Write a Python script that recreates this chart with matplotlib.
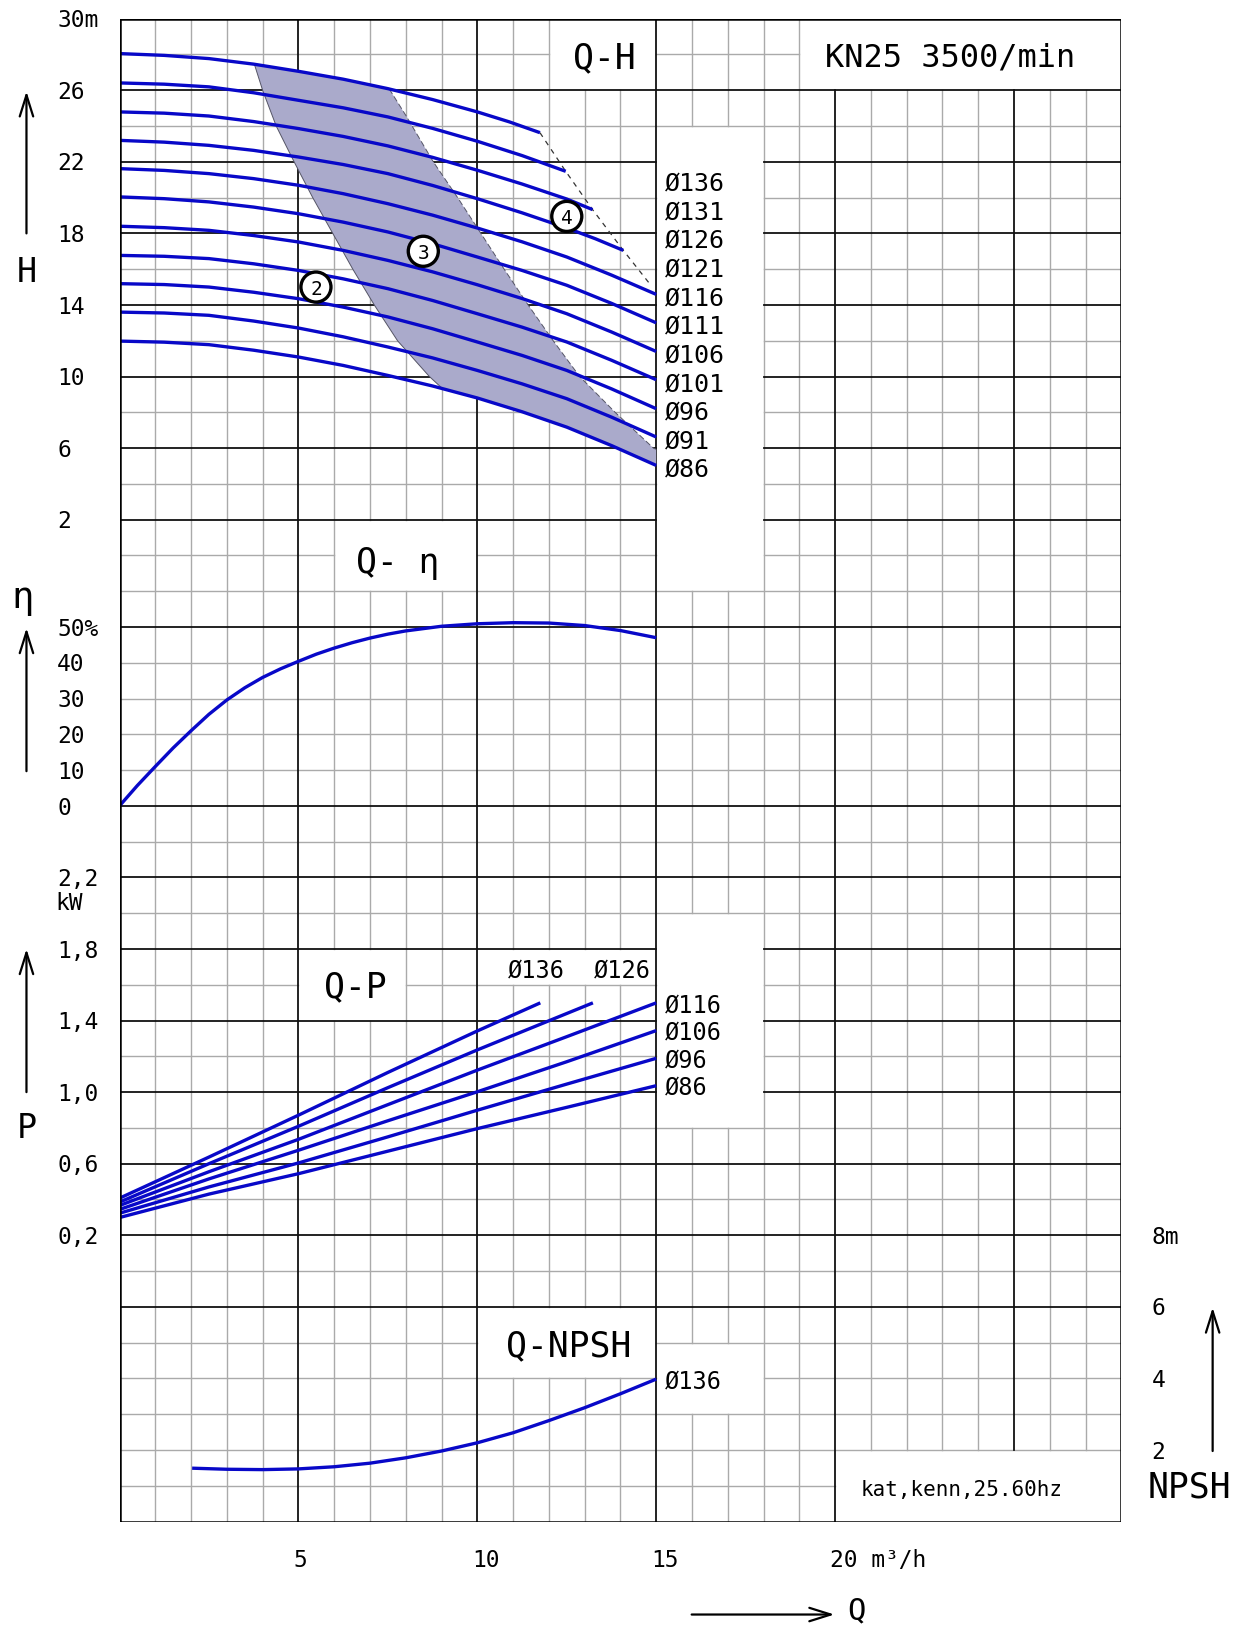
import numpy as np
import matplotlib
matplotlib.use('Agg')
import matplotlib.pyplot as plt
from matplotlib.patches import Circle, Polygon

# Q-H curves, Q in m3/h, H in m
h_labels = ['Ø136', 'Ø131', 'Ø126', 'Ø121', 'Ø116', 'Ø111', 'Ø106', 'Ø101', 'Ø96', 'Ø91', 'Ø86']
q_std = [0, 1.25, 2.5, 3.75, 5, 6.25, 7.5, 8.75, 10, 11.25, 12.5, 13.75, 15]
h_q = [
    [0, 1.25, 2.5, 3.75, 5, 6.25, 7.5, 8.75, 10, 10.9, 11.75],
    [0, 1.25, 2.5, 3.75, 5, 6.25, 7.5, 8.75, 10, 11.25, 12.47],
    [0, 1.25, 2.5, 3.75, 5, 6.25, 7.5, 8.75, 10, 11.25, 12.5, 13.22],
    [0, 1.25, 2.5, 3.75, 5, 6.25, 7.5, 8.75, 10, 11.25, 12.5, 13.3, 14.08],
    q_std, q_std, q_std, q_std, q_std, q_std, q_std,
]
h_h = [
    [28.05, 27.95, 27.77, 27.46, 27.06, 26.62, 26.09, 25.48, 24.79, 24.23, 23.63],
    [26.41, 26.34, 26.19, 25.86, 25.44, 25.02, 24.51, 23.87, 23.15, 22.35, 21.47],
    [24.79, 24.72, 24.56, 24.25, 23.86, 23.42, 22.89, 22.25, 21.53, 20.76, 19.92, 19.33],
    [23.20, 23.10, 22.92, 22.64, 22.27, 21.85, 21.34, 20.68, 19.94, 19.15, 18.30, 17.70, 17.05],
    [21.62, 21.52, 21.34, 21.06, 20.69, 20.22, 19.66, 19.02, 18.30, 17.53, 16.68, 15.67, 14.59],
    [20.04, 19.94, 19.76, 19.47, 19.10, 18.63, 18.08, 17.42, 16.68, 15.93, 15.10, 14.09, 13.00],
    [18.40, 18.32, 18.17, 17.88, 17.52, 17.05, 16.49, 15.85, 15.13, 14.36, 13.51, 12.49, 11.40],
    [16.77, 16.72, 16.59, 16.30, 15.93, 15.46, 14.91, 14.25, 13.51, 12.76, 11.93, 10.91, 9.82],
    [15.19, 15.14, 15.00, 14.71, 14.35, 13.88, 13.33, 12.67, 11.93, 11.18, 10.34, 9.31, 8.20],
    [13.60, 13.55, 13.42, 13.10, 12.71, 12.22, 11.65, 11.04, 10.34, 9.59, 8.76, 7.73, 6.62],
    [11.98, 11.92, 11.78, 11.47, 11.09, 10.62, 10.06, 9.47, 8.80, 8.03, 7.17, 6.14, 5.03],
]

# shaded operating band: top along Ø136, right edge, bottom along Ø86, left edge
band_q = [3.77, 5, 6.25, 7.5, 7.54, 8.0, 8.77, 9.45, 10.1, 10.75, 11.42, 12.12, 12.86, 13.85, 14.92, 15,
          15, 13.75, 12.5, 11.25, 10, 9.03, 8.66, 7.77, 7.12, 6.52, 5.96, 5.4, 4.88, 4.38, 4.0]
band_h = [27.45, 27.06, 26.62, 26.09, 26.07, 24.6, 22.0, 20.0, 18.0, 16.0, 14.0, 12.0, 10.0, 8.0, 6.0, 5.93,
          5.03, 6.14, 7.17, 8.03, 8.80, 9.32, 10.0, 12.0, 14.0, 16.0, 18.0, 20.0, 22.0, 24.0, 26.0]
right_edge = (4, 16)
left_edge = 21

env_q = [11.75, 12.47, 13.22, 14.08, 14.85]
env_h = [23.63, 21.47, 19.33, 17.05, 15.1]

mark_text = ['2', '3', '4']
mark_q = [5.49, 8.49, 12.5]
mark_h = [15.0, 17.0, 18.95]

# efficiency
eta_q = [0, 0.5, 1, 1.5, 2, 2.5, 3, 3.5, 4, 4.5, 5, 5.5, 6, 6.5, 7, 7.5, 8, 9, 10, 11, 12, 13, 14, 15]
eta_v = [0, 5.7, 11.0, 16.2, 21.0, 25.6, 29.6, 33.0, 35.9, 38.3, 40.4, 42.4, 44.1, 45.6, 46.9, 48.0,
         48.9, 50.2, 50.9, 51.2, 51.1, 50.4, 49.0, 47.0]

# power
p_labels = ['Ø136', 'Ø126', 'Ø116', 'Ø106', 'Ø96', 'Ø86']
p_q = [
    [0, 2.5, 5, 7.5, 10, 11.76],
    [0, 2.5, 5, 7.5, 10, 13.23],
    [0, 2.5, 5, 7.5, 10, 12.5, 15],
    [0, 2.5, 5, 7.5, 10, 12.5, 15],
    [0, 2.5, 5, 7.5, 10, 12.5, 15],
    [0, 2.5, 5, 7.5, 10, 12.5, 15],
]
p_v = [
    [0.407, 0.637, 0.871, 1.110, 1.342, 1.499],
    [0.385, 0.600, 0.809, 1.025, 1.236, 1.499],
    [0.366, 0.555, 0.736, 0.930, 1.123, 1.310, 1.499],
    [0.344, 0.515, 0.675, 0.840, 1.002, 1.170, 1.344],
    [0.323, 0.470, 0.604, 0.750, 0.899, 1.045, 1.189],
    [0.299, 0.430, 0.544, 0.670, 0.796, 0.915, 1.036],
]

# NPSH
npsh_q = [2.03, 3, 4, 5, 6, 7, 8, 9, 10, 11, 12, 13, 14, 15]
npsh_v = [1.49, 1.46, 1.45, 1.47, 1.53, 1.63, 1.78, 1.97, 2.20, 2.48, 2.82, 3.18, 3.57, 3.98]

# tick labels
h_ticks = [30, 26, 22, 18, 14, 10, 6, 2]
h_tick_text = ['30m', '26', '22', '18', '14', '10', '6', '2']
eta_ticks = [50, 40, 30, 20, 10, 0]
eta_tick_text = ['50%', '40', '30', '20', '10', '0']
p_ticks = [2.2, 1.8, 1.4, 1.0, 0.6, 0.2]
p_tick_text = ['2,2', '1,8', '1,4', '1,0', '0,6', '0,2']
n_ticks = [8, 6, 4, 2]
n_tick_text = ['8m', '6', '4', '2']
q_ticks = [5, 10, 15, 20]
q_tick_text = ['5', '10', '15', '20 m³/h']


# every panel shares one square grid: x in Q, y in grid cells (0 at bottom, 42 at top)
def yH(h):
    return 28 + (np.asarray(h) - 2) / 2.0

def yE(e):
    return 20 + np.asarray(e) / 10.0

def yP(p):
    return 7 + 5 * np.asarray(p)

def yN(n):
    return np.asarray(n, dtype=float)


plt.rcParams['font.family'] = ['DejaVu Sans Mono', 'DejaVu Sans']
blue = '#0808c8'
gray = '#aaaaaa'
dy = -0.06

fig = plt.figure(figsize=(12.43, 16.30), dpi=100)
ax = fig.add_axes([119.5 / 1243, (1630 - 1521.5) / 1630, 1001.9 / 1243, 1502.8 / 1630])
ax.set_xlim(0, 28)
ax.set_ylim(0, 42)
ax.axis('off')

# white label areas where the grid is left out
boxes = [(12, 15, 40, 42), (19, 28, 40, 42), (15, 18, 26, 39), (6, 10, 26, 28),
         (5, 8, 14, 16), (10, 15, 15, 16), (15, 18, 11, 17), (10, 15, 4, 6),
         (15, 18, 3, 5), (20, 28, 0, 2)]


def pieces(pos, lo, hi, vertical):
    segs = [(lo, hi)]
    for x0, x1, y0, y1 in boxes:
        if vertical and x0 < pos < x1:
            a, b = y0, y1
        elif not vertical and y0 < pos < y1:
            a, b = x0, x1
        else:
            continue
        new = []
        for s, e in segs:
            if b <= s or a >= e:
                new.append((s, e))
                continue
            if a > s:
                new.append((s, a))
            if b < e:
                new.append((b, e))
        segs = new
    return segs


black_rows = [40, 38, 36, 34, 32, 30, 28, 25, 20, 18, 16, 14, 12, 10, 8, 6]
for q in range(1, 28):
    major = q % 5 == 0
    for s, e in pieces(q, 0, 42, True):
        ax.plot([q, q], [s, e], color='#111111' if major else gray,
                lw=1.3 if major else 1.0, zorder=3 if major else 2)
for y in range(1, 42):
    major = y in black_rows
    for s, e in pieces(y, 0, 28, False):
        ax.plot([s, e], [y, y], color='#111111' if major else gray,
                lw=1.3 if major else 1.0, zorder=3 if major else 2)
ax.plot([0, 28, 28, 0, 0], [0, 0, 42, 42, 0], color='black', lw=1.8, zorder=6)

# Q-H
ax.add_patch(Polygon(np.column_stack([band_q, yH(band_h)]), closed=True,
                     facecolor='#aaaacb', edgecolor='none', zorder=4))
ax.plot(band_q[left_edge:] + [band_q[0]], list(yH(band_h[left_edge:])) + [yH(band_h[0])],
        color='#555566', lw=0.7, zorder=4)
ax.plot(band_q[right_edge[0]:right_edge[1]], yH(band_h[right_edge[0]:right_edge[1]]),
        color='#555566', lw=0.7, ls=(0, (6, 3)), zorder=4)
ax.plot(env_q, yH(env_h), color='#333333', lw=0.9, ls=(0, (4, 4)), zorder=4)
for q, h in zip(h_q, h_h):
    ax.plot(q, yH(h), color=blue, lw=2.4, solid_capstyle='butt', zorder=5)
for i, lab in enumerate(h_labels):
    ax.text(15.25, 37.45 - 0.8 * i + dy, lab, fontsize=18, va='center', ha='left', zorder=7)
for t, q, h in zip(mark_text, mark_q, mark_h):
    ax.add_patch(Circle((q, yH(h)), 0.42, facecolor='white', edgecolor='black', lw=2.4, zorder=8))
    ax.text(q, yH(h) + dy, t, fontsize=14, ha='center', va='center', zorder=9)

# Q-eta
ax.plot(eta_q, yE(eta_v), color=blue, lw=2.4, solid_capstyle='butt', zorder=5)

# Q-P
for q, p in zip(p_q, p_v):
    ax.plot(q, yP(p), color=blue, lw=2.4, solid_capstyle='butt', zorder=5)
ax.text(10.86, 15.47 + dy, p_labels[0], fontsize=17, va='center', ha='left')
ax.text(13.25, 15.47 + dy, p_labels[1], fontsize=17, va='center', ha='left')
for lab, p in zip(p_labels[2:], p_v[2:]):
    ax.text(15.25, yP(p[-1]) + dy, lab, fontsize=17, va='center', ha='left')

# Q-NPSH
ax.plot(npsh_q, yN(npsh_v), color=blue, lw=2.4, solid_capstyle='butt', zorder=5)
ax.text(15.25, 3.98 + dy, 'Ø136', fontsize=17, va='center', ha='left')

# panel titles
ax.text(13.56, 40.95 + dy, 'Q-H', fontsize=25, ha='center', va='center')
ax.text(23.2, 40.95 + dy, 'KN25 3500/min', fontsize=23, ha='center', va='center')
ax.text(7.79, 26.85 + dy, 'Q- η', fontsize=25, ha='center', va='center')
ax.text(6.58, 14.99 + dy, 'Q-P', fontsize=25, ha='center', va='center')
ax.text(12.56, 4.96 + dy, 'Q-NPSH', fontsize=25, ha='center', va='center')
ax.text(23.54, 0.93 + dy, 'kat,kenn,25.60hz', fontsize=15, ha='center', va='center')

# tick labels
for v, t in zip(h_ticks, h_tick_text):
    ax.text(-1.74, yH(v) + dy, t, fontsize=16.5, ha='left', va='center')
for v, t in zip(eta_ticks, eta_tick_text):
    ax.text(-1.74, yE(v) + dy, t, fontsize=16.5, ha='left', va='center')
for v, t in zip(p_ticks, p_tick_text):
    ax.text(-1.74, yP(v) + dy, t, fontsize=16.5, ha='left', va='center')
ax.text(-1.78, 17.33 + dy, 'kW', fontsize=16.5, ha='left', va='center')
for v, t in zip(n_ticks, n_tick_text):
    ax.text(28.84, yN(v) + dy, t, fontsize=16.5, ha='left', va='center')
for v, t in zip(q_ticks, q_tick_text):
    ax.text(v - 0.15, -1.04 + dy, t, fontsize=16.5, ha='left', va='center')

# axis names with arrows
arrow = dict(arrowstyle='->, head_length=0.7, head_width=0.22', color='black', lw=1.6,
             mutation_scale=22, shrinkA=0, shrinkB=0)
for x0, y0, x1, y1 in [(-2.6, 36.0, -2.6, 39.97), (-2.6, 20.97, -2.6, 24.97),
                       (-2.6, 12.0, -2.6, 16.0), (30.55, 1.97, 30.55, 5.98),
                       (15.99, -2.6, 19.98, -2.6)]:
    ax.annotate('', xy=(x1, y1), xytext=(x0, y0), arrowprops=arrow, annotation_clip=False)
ax.text(-2.58, 34.98 + dy, 'H', fontsize=24, ha='center', va='center')
ax.text(-2.71, 25.8, 'η', fontsize=27, ha='center', va='center')
ax.text(-2.6, 11.05 + dy, 'P', fontsize=24, ha='center', va='center')
ax.text(29.89, 1.01 + dy, 'NPSH', fontsize=25, ha='center', va='center')
ax.text(20.59, -2.5, 'Q', fontsize=22, ha='center', va='center')

fig.savefig('out.png', dpi=100)
